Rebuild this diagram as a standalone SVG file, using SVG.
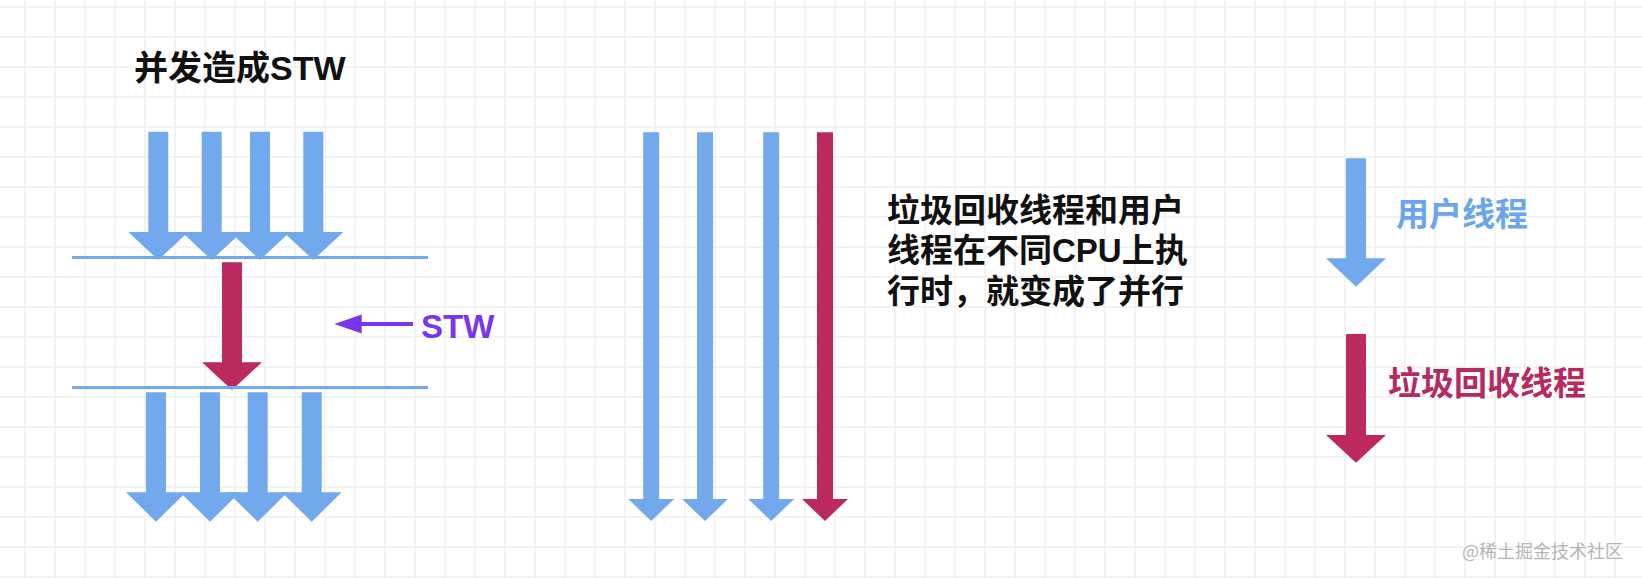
<svg xmlns="http://www.w3.org/2000/svg" width="1642" height="578" viewBox="0 0 1642 578">
<defs>
<pattern id="grid" patternUnits="userSpaceOnUse" x="24" y="6" width="30" height="30">
<path d="M1 0V30M0 1H30" fill="none" stroke="#f0f0f0" stroke-width="1.6"/>
</pattern>
<style>
.blue{fill:#72a9ec}
.red{fill:#bb2960}
.hline{stroke:#72a9ec;stroke-width:3}
.t{font-family:"Liberation Sans","Noto Sans CJK SC",sans-serif;font-weight:bold}
.m{font-family:"Noto Sans CJK SC",sans-serif;font-weight:600}
</style>
</defs>
<rect width="1642" height="578" fill="#ffffff"/>
<rect width="1642" height="578" fill="url(#grid)"/>
<g id="title"><text class="t" x="134" y="80" font-size="34" fill="#111">并发造成STW</text></g>
<g id="connectors">
<g id="top-arrows" class="blue">
<polygon points="148.3,131.7 168.3,131.7 168.3,232 188.3,232 158.3,260 128.3,232 148.3,232"/>
<polygon points="201.7,131.7 221.7,131.7 221.7,232 241.7,232 211.7,260 181.7,232 201.7,232"/>
<polygon points="250,131.7 270,131.7 270,232 290,232 260,260 230,232 250,232"/>
<polygon points="303.3,131.7 323.3,131.7 323.3,232 343.3,232 313.3,260 283.3,232 303.3,232"/>
</g>
<polygon id="stw-arrow" class="red" points="222,262.3 242,262.3 242,362.3 262,362.3 232,390 202,362.3 222,362.3"/>
<g id="bottom-arrows" class="blue">
<polygon points="146,392.3 166,392.3 166,492.3 186,492.3 156,521.7 126,492.3 146,492.3"/>
<polygon points="200,392.3 220,392.3 220,492.3 240,492.3 210,521.7 180,492.3 200,492.3"/>
<polygon points="247.7,392.3 267.7,392.3 267.7,492.3 287.7,492.3 257.7,521.7 227.7,492.3 247.7,492.3"/>
<polygon points="301.7,392.3 321.7,392.3 321.7,492.3 341.7,492.3 311.7,521.7 281.7,492.3 301.7,492.3"/>
</g>
<line class="hline" x1="72" y1="257.5" x2="428" y2="257.5"/>
<line class="hline" x1="72" y1="387.5" x2="428" y2="387.5"/>
<g id="stw-pointer">
<line x1="413" y1="324" x2="355" y2="324" stroke="#7a35ef" stroke-width="4"/>
<polygon points="334.3,324 361.7,314.5 361.7,333.5" fill="#7a35ef"/>
</g>
<g id="parallel-arrows">
<polygon class="blue" points="643.2,132.3 659.2,132.3 659.2,499 674.2,499 651.2,521 628.2,499 643.2,499"/>
<polygon class="blue" points="697,132.3 713,132.3 713,499 728,499 705,521 682,499 697,499"/>
<polygon class="blue" points="763.2,132.3 779.2,132.3 779.2,499 794.2,499 771.2,521 748.2,499 763.2,499"/>
<polygon class="red" points="817,132.3 833,132.3 833,499 848,499 825,521 802,499 817,499"/>
</g>
<g id="legend-arrows">
<polygon class="blue" points="1346,158.3 1366,158.3 1366,258.3 1386,258.3 1356,286.7 1326,258.3 1346,258.3"/>
<polygon class="red" points="1346,334 1366,334 1366,435 1386,435 1356,462.7 1326,435 1346,435"/>
</g>
</g>
<g id="stw-label"><text class="t" x="421" y="337.5" font-size="33" fill="#7a35ef">STW</text></g>
<g id="note">
<text class="t" font-size="33" fill="#111">
<tspan x="887" y="222">垃圾回收线程和用户</tspan>
<tspan x="887" y="262">线程在不同CPU上执</tspan>
<tspan x="887" y="303">行时，就变成了并行</tspan>
</text>
</g>
<g id="legend-user"><text class="m" x="1396" y="226" font-size="33" fill="#6ba6ea">用户线程</text></g>
<g id="legend-gc"><text class="m" x="1388" y="395" font-size="33" fill="#b62a61">垃圾回收线程</text></g>
<g id="watermark"><text x="1462" y="558" font-size="18" font-family="'Noto Sans CJK SC',sans-serif" fill="#b5b5b5">@稀土掘金技术社区</text></g>
</svg>
